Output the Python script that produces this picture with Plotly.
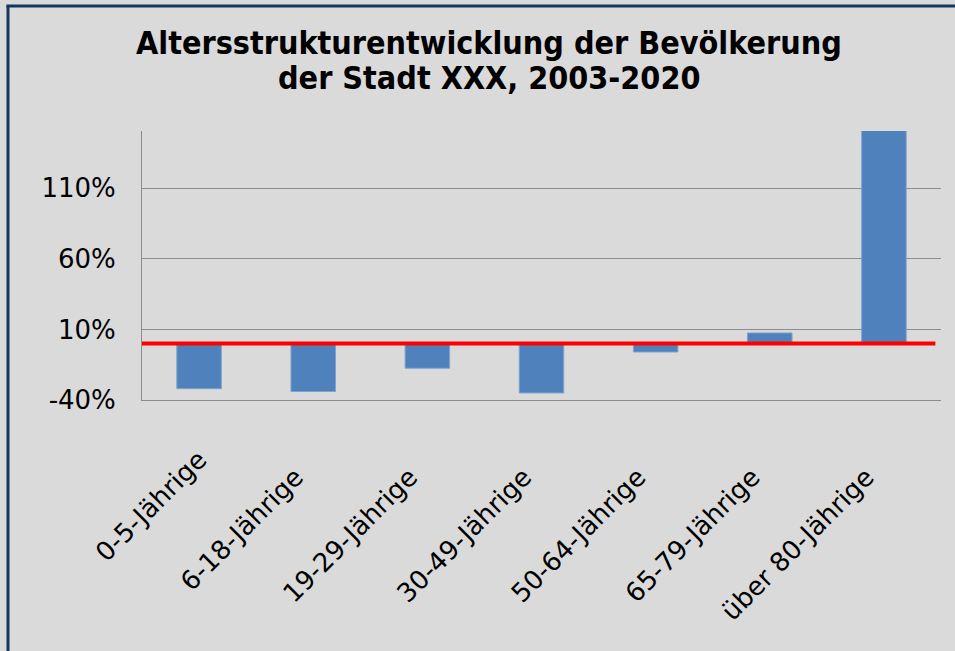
import plotly.graph_objects as go

categories = ["0-5-Jährige", "6-18-Jährige", "19-29-Jährige", "30-49-Jährige",
              "50-64-Jährige", "65-79-Jährige", "über 80-Jährige"]
values = [-32, -34, -17.5, -35, -6, 7.5, 151]
tick_vals = [-40, 10, 60, 110]
tick_text = ["-40%", "10%", "60%", "110%"]
title_lines = ["Altersstrukturentwicklung der Bevölkerung", "der Stadt XXX, 2003-2020"]

BG = "#DADADA"
GRID = "#8C8C8C"
FRAME = "#17375E"
NBSP = "\u00a0"

# x labels: trailing non-breaking spaces nudge rotated labels along their direction
x_labels = [categories[0]] + [c + NBSP * 3 for c in categories[1:]]

fig = go.Figure()
fig.add_trace(go.Bar(
    x=categories, y=values,
    marker=dict(color="#4F81BD", line=dict(color="#7FA3D0", width=1)),
    width=0.39,
))

fig.update_layout(
    width=955, height=651,
    paper_bgcolor=BG, plot_bgcolor=BG,
    margin=dict(l=142, r=14, t=131, b=251),
    showlegend=False,
    font=dict(family="DejaVu Sans", color="#000000"),
)
title_font = dict(family="DejaVu Sans Condensed, DejaVu Sans", size=32, color="#000000", weight="bold")
# plot area: x 142..941, y 131..400 (px)
for line, py in zip(title_lines, [43, 78]):
    fig.add_annotation(text=line, xref="paper", yref="paper",
                       x=(489 - 142) / 799, y=(400 - py) / 269,
                       xanchor="center", yanchor="middle", showarrow=False,
                       font=title_font)

fig.update_yaxes(
    range=[-40, 150.5], tickvals=tick_vals, ticktext=tick_text,
    showgrid=True, gridcolor=GRID, gridwidth=1,
    showline=True, linecolor=GRID, linewidth=1,
    zeroline=False, ticks="", ticklabelstandoff=20,
    tickfont=dict(size=26, family="DejaVu Sans", color="#000000"),
)
fig.update_xaxes(
    showline=True, linecolor=GRID, linewidth=1,
    showgrid=False, ticks="", tickangle=-45,
    tickvals=categories, ticktext=x_labels,
    ticklabelstandoff=33,
    tickfont=dict(size=26, family="DejaVu Sans", color="#000000"),
)
# red zero line
fig.add_shape(type="line", xref="paper", yref="y", x0=0, x1=0.993, y0=0, y1=0,
              line=dict(color="#FF0000", width=4))
# frame (top and left border)
fx = (8 - 142) / 799
fy = (400 - 6) / 269
fig.add_shape(type="line", xref="paper", yref="paper", x0=fx - 0.002, x1=1.03, y0=fy, y1=fy,
              line=dict(color=FRAME, width=3))
fig.add_shape(type="line", xref="paper", yref="paper", x0=fx, x1=fx, y0=fy, y1=-1.0,
              line=dict(color=FRAME, width=3))

fig.write_html("out.html", config={"displayModeBar": False},
               post_script="document.body.style.margin='0px';document.body.style.background='#DADADA';")
